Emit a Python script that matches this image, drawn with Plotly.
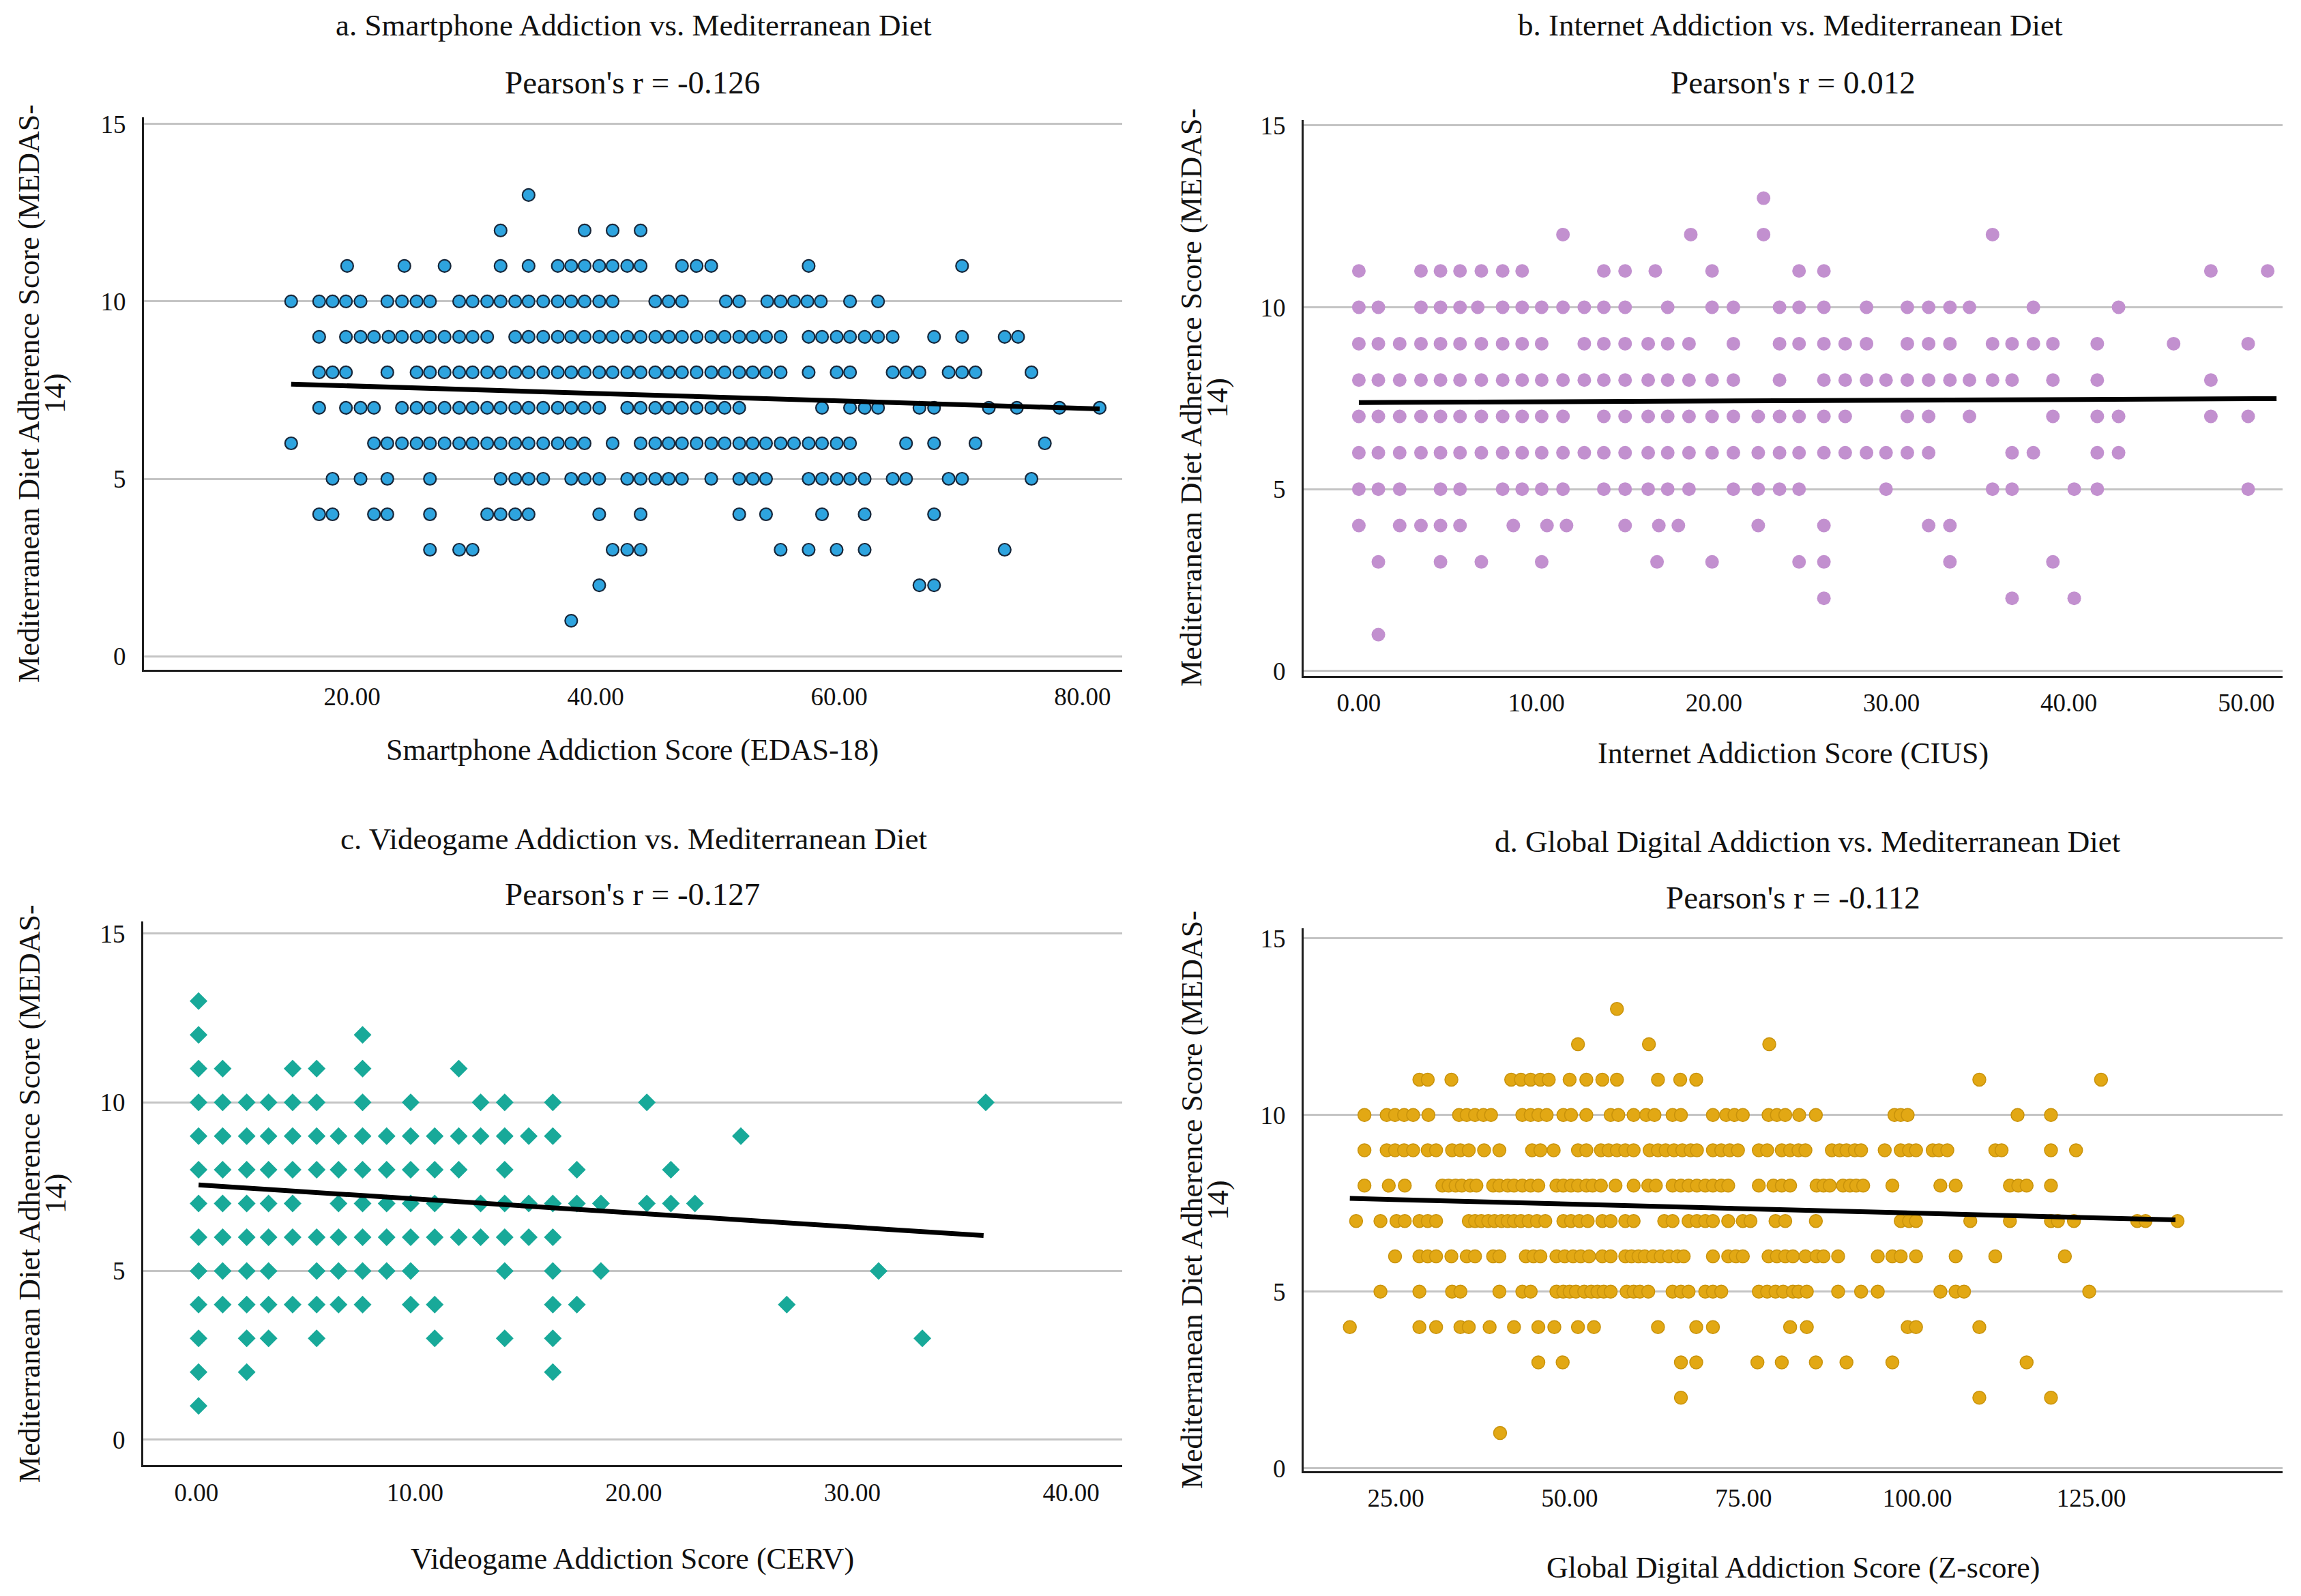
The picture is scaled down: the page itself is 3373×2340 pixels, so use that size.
import plotly.graph_objects as go

W, H = 3373, 2340

# ---------------- DATA ----------------
# Each dict: MEDAS-14 score (y) -> list of addiction scores (x) observed in that row
a_rows = {
    13: [34.5],
    12: [32.2, 39.1, 41.4, 43.7],
    11: [19.6, 24.3, 27.6, 32.2, 34.5, 36.9, 38.0, 39.1, 40.3, 41.4, 42.6, 43.7, 47.1, 48.3, 49.5, 57.5, 70.1],
    10: [15.0, 17.3, 18.4, 19.5, 20.7, 22.9, 24.1, 25.3, 26.4, 28.8, 29.9, 31.1, 32.2, 33.4, 34.5, 35.7, 36.9, 38.0,
         39.1, 40.3, 41.4, 44.9, 46.0, 47.1, 50.7, 51.8, 54.1, 55.2, 56.3, 57.4, 58.5, 60.9, 63.2],
    9: [17.3, 19.5, 20.7, 21.8, 23.0, 24.1, 25.3, 26.4, 27.6, 28.8, 29.9, 31.1, 33.4, 34.5, 35.7, 36.9, 38.0, 39.1,
        40.3, 41.4, 42.6, 43.7, 44.9, 46.0, 47.1, 48.3, 49.5, 50.6, 51.8, 52.9, 54.0, 55.2, 57.5, 58.6, 59.8, 60.9,
        62.1, 63.2, 64.4, 67.8, 70.1, 73.6, 74.7],
    8: [17.3, 18.4, 19.5, 22.9, 25.3, 26.4, 27.6, 28.8, 29.9, 31.1, 32.2, 33.4, 34.5, 35.7, 36.9, 38.0, 39.1, 40.3,
        41.4, 42.6, 43.7, 44.9, 46.0, 47.1, 48.3, 49.5, 50.6, 51.8, 52.9, 54.0, 55.2, 57.5, 59.8, 60.9, 64.4, 65.5,
        66.6, 69.0, 70.1, 71.2, 75.8],
    7: [17.3, 19.5, 20.7, 21.8, 24.1, 25.3, 26.4, 27.6, 28.8, 29.9, 31.1, 32.2, 33.4, 34.5, 35.7, 36.9, 38.0, 39.1,
        40.3, 42.6, 43.7, 44.9, 46.0, 47.1, 48.3, 49.5, 50.6, 51.8, 58.6, 60.9, 62.1, 63.2, 66.6, 67.8, 72.3, 74.6,
        78.1, 81.4],
    6: [15.0, 21.8, 22.9, 24.1, 25.3, 26.4, 27.6, 28.8, 29.9, 31.1, 32.2, 33.4, 34.5, 35.7, 36.9, 38.0, 39.1, 41.4,
        43.7, 44.9, 46.0, 47.1, 48.3, 49.5, 50.6, 51.8, 52.9, 54.0, 55.2, 56.3, 57.5, 58.6, 59.8, 60.9, 65.5, 67.8,
        71.2, 76.9],
    5: [18.4, 20.7, 22.9, 26.4, 32.2, 33.4, 34.5, 35.7, 38.0, 39.1, 40.3, 42.6, 43.7, 44.9, 46.0, 47.1, 49.5, 51.8,
        52.9, 54.0, 57.5, 58.6, 59.8, 60.9, 62.1, 64.4, 65.5, 69.0, 70.1, 75.8],
    4: [17.3, 18.4, 21.8, 22.9, 26.4, 31.1, 32.2, 33.4, 34.5, 40.3, 43.7, 51.8, 54.0, 58.6, 62.1, 67.8],
    3: [26.4, 28.8, 29.9, 41.4, 42.6, 43.7, 55.2, 57.5, 59.8, 62.1, 73.6],
    2: [40.3, 66.6, 67.8],
    1: [38.0],
}

b_rows = {
    13: [22.8],
    12: [11.5, 18.7, 22.8, 35.7],
    11: [0.0, 3.5, 4.6, 5.7, 6.9, 8.1, 9.2, 13.8, 15.0, 16.7, 19.9, 24.8, 26.2, 48.0, 51.2],
    10: [0.0, 1.1, 3.5, 4.6, 5.7, 6.7, 8.1, 9.2, 10.3, 11.5, 12.7, 13.8, 15.0, 17.4, 19.9, 21.1, 23.7, 24.8, 26.2,
         28.6, 30.9, 32.1, 33.3, 34.4, 38.0, 42.8],
    9: [0.0, 1.1, 2.3, 3.5, 4.6, 5.7, 6.9, 8.1, 9.2, 10.3, 12.7, 13.8, 15.0, 16.3, 17.4, 18.6, 21.1, 23.7, 24.8,
        26.2, 27.4, 28.6, 30.9, 32.1, 33.3, 35.7, 36.8, 38.0, 39.1, 41.6, 45.9, 50.1],
    8: [0.0, 1.1, 2.3, 3.5, 4.6, 5.7, 6.9, 8.1, 9.2, 10.3, 11.5, 12.7, 13.8, 15.0, 16.3, 17.4, 18.6, 19.9, 21.1,
        23.7, 26.2, 27.4, 28.6, 29.7, 30.9, 32.1, 33.3, 34.4, 35.7, 36.8, 39.1, 41.6, 48.0],
    7: [0.0, 1.1, 2.3, 3.5, 4.6, 5.7, 6.9, 8.1, 9.2, 10.3, 11.5, 13.8, 15.0, 16.3, 17.4, 18.6, 19.9, 21.1, 22.5,
        23.7, 24.8, 26.2, 27.4, 30.9, 32.1, 34.4, 39.1, 41.6, 42.8, 48.0, 50.1],
    6: [0.0, 1.1, 2.3, 3.5, 4.6, 5.7, 6.9, 8.1, 9.2, 10.3, 11.5, 12.7, 13.8, 15.0, 16.3, 17.4, 18.6, 19.9, 21.1,
        22.5, 23.7, 24.8, 26.2, 27.4, 28.6, 29.7, 30.9, 32.1, 36.8, 38.0, 41.6, 42.8],
    5: [0.0, 1.1, 2.3, 4.6, 5.7, 8.1, 9.2, 10.3, 11.5, 13.8, 15.0, 16.3, 17.4, 18.6, 21.1, 22.5, 23.7, 24.8, 29.7,
        35.7, 36.8, 40.3, 41.6, 50.1],
    4: [0.0, 2.3, 3.5, 4.6, 5.7, 8.7, 10.6, 11.7, 15.0, 16.9, 18.0, 22.5, 26.2, 32.1, 33.3],
    3: [1.1, 4.6, 6.9, 10.3, 16.8, 19.9, 24.8, 26.2, 33.3, 39.1],
    2: [26.2, 36.8, 40.3],
    1: [1.1],
}

c_rows = {
    13: [0.1],
    12: [0.1, 7.6],
    11: [0.1, 1.2, 4.4, 5.5, 7.6, 12.0],
    10: [0.1, 1.2, 2.3, 3.3, 4.4, 5.5, 7.6, 9.8, 13.0, 14.1, 16.3, 20.6, 36.1],
    9: [0.1, 1.2, 2.3, 3.3, 4.4, 5.5, 6.5, 7.6, 8.7, 9.8, 10.9, 12.0, 13.0, 14.1, 15.2, 16.3, 24.9],
    8: [0.1, 1.2, 2.3, 3.3, 4.4, 5.5, 6.5, 7.6, 8.7, 9.8, 10.9, 12.0, 14.1, 17.4, 21.7],
    7: [0.1, 1.2, 2.3, 3.3, 4.4, 6.5, 7.6, 8.7, 9.8, 10.9, 13.0, 14.1, 15.2, 16.3, 17.4, 18.5, 20.6, 21.7, 22.8],
    6: [0.1, 1.2, 2.3, 3.3, 4.4, 5.5, 6.5, 7.6, 8.7, 9.8, 10.9, 12.0, 13.0, 14.1, 15.2, 16.3],
    5: [0.1, 1.2, 2.3, 3.3, 5.5, 6.5, 7.6, 8.7, 9.8, 14.1, 16.3, 18.5, 31.2],
    4: [0.1, 1.2, 2.3, 3.3, 4.4, 5.5, 6.5, 7.6, 9.8, 10.9, 16.3, 17.4, 27.0],
    3: [0.1, 2.3, 3.3, 5.5, 10.9, 14.1, 16.3, 33.2],
    2: [0.1, 2.3, 16.3],
    1: [0.1],
}

d_rows = {
    13: [56.8],
    12: [51.2, 61.4, 78.7],
    11: [28.4, 29.6, 33.0, 41.6, 43.0, 44.4, 45.8, 47.0, 50.0, 52.4, 54.7, 56.8, 62.7, 65.9, 68.2, 108.9, 126.4],
    10: [20.5, 23.7, 24.9, 26.2, 27.5, 29.7, 34.1, 35.2, 36.4, 37.6, 38.7, 43.2, 44.4, 45.5, 46.7, 49.1, 50.2, 52.4,
         55.9, 57.0, 59.2, 61.0, 62.2, 64.8, 66.0, 70.6, 72.5, 73.7, 74.9, 78.6, 79.8, 81.0, 83.0, 85.4, 96.7, 97.6,
         98.6, 114.4, 119.2],
    9: [20.5, 23.7, 24.9, 26.2, 27.5, 29.6, 30.8, 33.1, 34.3, 35.5, 37.7, 39.9, 44.6, 45.8, 47.7, 51.2, 52.4, 54.5,
        55.6, 56.8, 58.0, 59.2, 61.5, 62.7, 63.8, 65.0, 66.2, 67.4, 68.3, 70.6, 71.8, 73.0, 74.2, 77.2, 78.4, 80.5,
        81.7, 82.9, 83.9, 87.7, 88.8, 89.8, 91.0, 91.9, 95.3, 97.6, 98.8, 99.8, 102.2, 103.1, 104.3, 111.2, 112.1,
        119.2, 122.8],
    8: [20.5, 24.0, 26.3, 31.7, 32.6, 33.6, 34.5, 35.7, 36.6, 39.0, 39.9, 41.1, 42.0, 43.2, 44.4, 45.5, 48.1, 49.1,
        50.2, 51.2, 52.4, 53.3, 54.5, 56.6, 59.2, 61.3, 62.4, 64.8, 66.0, 67.1, 68.3, 69.5, 70.6, 71.8, 72.8, 77.2,
        79.3, 80.5, 81.7, 85.5, 86.5, 87.4, 89.3, 90.3, 91.2, 92.2, 96.4, 103.3, 105.5, 113.3, 114.5, 115.7, 119.2],
    7: [19.3, 22.8, 25.1, 26.3, 28.4, 29.6, 30.8, 35.5, 36.4, 37.3, 38.3, 39.2, 40.2, 41.1, 42.0, 43.0, 44.1, 45.3,
        46.5, 49.1, 50.2, 51.4, 52.6, 54.7, 55.9, 58.0, 59.2, 63.6, 64.8, 67.1, 68.3, 69.5, 70.6, 72.8, 74.9, 76.0,
        79.6, 81.0, 85.4, 97.6, 98.8, 99.8, 107.6, 113.3, 119.2, 120.2, 122.5, 131.6, 132.8, 137.4],
    6: [24.9, 28.4, 29.6, 30.8, 33.0, 35.2, 36.4, 39.0, 39.9, 43.7, 44.8, 45.8, 48.1, 49.3, 50.5, 51.6, 52.8, 54.7,
        55.9, 58.0, 58.9, 59.9, 60.8, 62.0, 63.1, 64.3, 65.5, 66.4, 70.6, 72.8, 73.9, 74.9, 78.6, 79.8, 81.0, 82.1,
        83.9, 85.5, 86.5, 88.6, 94.3, 96.4, 97.6, 99.8, 105.5, 111.2, 121.2],
    5: [22.8, 28.4, 33.1, 34.3, 39.9, 43.2, 44.4, 48.1, 49.1, 50.0, 50.9, 52.1, 53.1, 54.0, 54.9, 55.9, 58.2, 59.2,
        60.1, 61.3, 64.8, 66.0, 67.1, 69.5, 70.6, 71.8, 77.2, 78.4, 79.6, 80.7, 82.1, 82.9, 84.1, 88.6, 91.9, 94.3,
        103.3, 105.5, 106.7, 124.7],
    4: [18.4, 28.4, 30.8, 34.3, 35.5, 38.5, 42.0, 45.5, 47.8, 51.2, 53.5, 62.7, 68.2, 70.6, 81.7, 84.1, 98.6, 99.8,
        108.9],
    3: [45.5, 49.0, 66.0, 68.2, 77.0, 80.5, 85.4, 89.8, 96.4, 115.7],
    2: [66.0, 108.9, 119.2],
    1: [40.0],
}

# fitted regression lines (end points)
fit_a_x, fit_a_y = [15.0, 81.4], [7.67, 6.97]
fit_b_x, fit_b_y = [0.0, 51.7], [7.38, 7.49]
fit_c_x, fit_c_y = [0.1, 36.0], [7.55, 6.05]
fit_d_x, fit_d_y = [18.4, 137.1], [7.64, 7.03]

titles = ["a. Smartphone Addiction vs. Mediterranean Diet",
          "b. Internet Addiction vs. Mediterranean Diet",
          "c. Videogame Addiction vs. Mediterranean Diet",
          "d. Global Digital Addiction vs. Mediterranean Diet"]
pearson = ["Pearson's r = -0.126", "Pearson's r = 0.012", "Pearson's r = -0.127", "Pearson's r = -0.112"]
x_titles = ["Smartphone Addiction Score (EDAS-18)", "Internet Addiction Score (CIUS)",
            "Videogame Addiction Score (CERV)", "Global Digital Addiction Score (Z-score)"]
y_title_1 = "Mediterranean Diet Adherence Score (MEDAS-"
y_title_2 = "14)"
x_ticks = [[20, 40, 60, 80], [0, 10, 20, 30, 40, 50], [0, 10, 20, 30, 40], [25, 50, 75, 100, 125]]
y_ticks = [0, 5, 10, 15]

# ---------------- LAYOUT / STYLE ----------------
FONT = "Liberation Serif"


def fx(p):
    return p / W


def fy(p):
    return 1 - p / H


panels = [
    dict(rows=a_rows, fit=(fit_a_x, fit_a_y), box=(211, 1645, 162, 982), xr=[2.91, 83.25], yr=[-0.38, 15.19],
         marker=dict(symbol="circle", size=18, color="#2ea4df", line=dict(color="#17273a", width=2.2)),
         title=(929, 25), pear=(927, 110), xt=(927, 1101), yt=(43, 81, 572)),
    dict(rows=b_rows, fit=(fit_b_x, fit_b_y), box=(1911, 3346, 166, 991), xr=[-3.11, 52.04], yr=[-0.13, 15.15],
         marker=dict(symbol="circle", size=20, color="#c290cf", line=dict(width=0)),
         title=(2624, 25), pear=(2628, 110), xt=(2628, 1106), yt=(1747, 1785, 578)),
    dict(rows=c_rows, fit=(fit_c_x, fit_c_y), box=(210, 1645, 1356, 2163), xr=[-2.43, 42.34], yr=[-0.76, 15.36],
         marker=dict(symbol="diamond", size=20, color="#18a999", line=dict(width=0)),
         title=(929, 1233), pear=(927, 1315), xt=(927, 2302), yt=(43, 81, 1760)),
    dict(rows=d_rows, fit=(fit_d_x, fit_d_y), box=(1911, 3346, 1366, 2172), xr=[11.76, 152.5], yr=[-0.08, 15.28],
         marker=dict(symbol="circle", size=19, color="#e2a814", line=dict(color="#c9930c", width=1.5)),
         title=(2650, 1237), pear=(2628, 1320), xt=(2628, 2315), yt=(1747, 1785, 1769)),
]

fig = go.Figure()
annotations = []
layout_axes = {}

for i, p in enumerate(panels):
    n = "" if i == 0 else str(i + 1)
    xs, ys = [], []
    for yv, xlist in p["rows"].items():
        for xv in xlist:
            xs.append(xv)
            ys.append(yv)
    fig.add_trace(go.Scatter(x=xs, y=ys, mode="markers", marker=p["marker"],
                             xaxis="x" + n, yaxis="y" + n, showlegend=False, hoverinfo="skip"))
    fig.add_trace(go.Scatter(x=p["fit"][0], y=p["fit"][1], mode="lines",
                             line=dict(color="black", width=7),
                             xaxis="x" + n, yaxis="y" + n, showlegend=False, hoverinfo="skip"))
    x0, x1, y0, y1 = p["box"]
    layout_axes["xaxis" + n] = dict(
        domain=[fx(x0), fx(x1)], range=p["xr"], anchor="y" + n,
        tickvals=x_ticks[i], tickformat=".2f", showgrid=False, zeroline=False,
        showline=True, linecolor="#1e1e1e", linewidth=3, ticks="", ticklabelstandoff=5,
        tickfont=dict(family=FONT, size=37, color="#111"))
    layout_axes["yaxis" + n] = dict(
        domain=[fy(y1), fy(y0)], range=p["yr"], anchor="x" + n,
        tickvals=y_ticks, showgrid=True, gridcolor="#c4c4c4", gridwidth=2.5, zeroline=False,
        showline=True, linecolor="#1e1e1e", linewidth=3, ticks="", ticklabelstandoff=16,
        tickfont=dict(family=FONT, size=37, color="#111"))

    annotations.append(dict(text=titles[i], x=fx(p["title"][0]), y=fy(p["title"][1]), xref="paper", yref="paper",
                            xanchor="center", yanchor="middle", showarrow=False,
                            font=dict(family=FONT, size=45, color="#111")))
    annotations.append(dict(text=pearson[i], x=fx(p["pear"][0]), y=fy(p["pear"][1]), xref="paper", yref="paper",
                            xanchor="center", yanchor="middle", showarrow=False,
                            font=dict(family=FONT, size=47, color="#111")))
    annotations.append(dict(text=x_titles[i], x=fx(p["xt"][0]), y=fy(p["xt"][1]), xref="paper", yref="paper",
                            xanchor="center", yanchor="middle", showarrow=False,
                            font=dict(family=FONT, size=44, color="#111")))
    annotations.append(dict(text=y_title_1, x=fx(p["yt"][0]), y=fy(p["yt"][2]), xref="paper", yref="paper",
                            xanchor="center", yanchor="middle", showarrow=False, textangle=-90,
                            font=dict(family=FONT, size=44, color="#111")))
    annotations.append(dict(text=y_title_2, x=fx(p["yt"][1]), y=fy(p["yt"][2]), xref="paper", yref="paper",
                            xanchor="center", yanchor="middle", showarrow=False, textangle=-90,
                            font=dict(family=FONT, size=44, color="#111")))

fig.update_layout(
    width=W, height=H, margin=dict(l=0, r=0, t=0, b=0),
    paper_bgcolor="white", plot_bgcolor="white",
    annotations=annotations, **layout_axes)

fig.write_html("out.html")
